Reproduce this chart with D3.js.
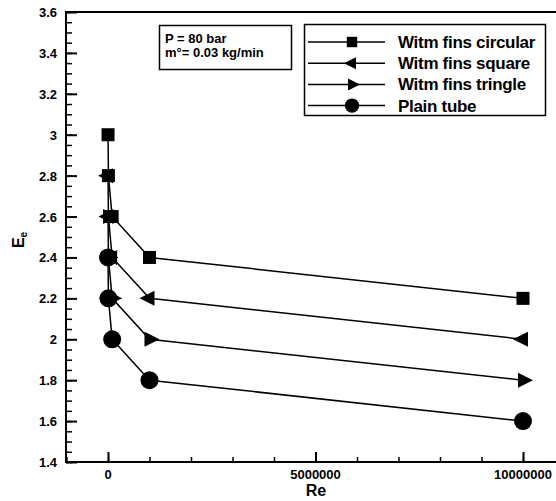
<!DOCTYPE html>
<html>
<head>
<meta charset="utf-8">
<script src="https://cdn.jsdelivr.net/npm/d3@7"></script>
<style>
  body { margin: 0; background: #fff; }
  text { font-family: "Liberation Sans", Arial, sans-serif; font-weight: bold; fill: #000; }
</style>
</head>
<body>
<svg width="556" height="501"></svg>
<script>
const reValues = [1000, 10000, 100000, 1000000, 10000000];
const seriesNames = ['Witm fins circular', 'Witm fins square', 'Witm fins tringle', 'Plain tube'];
const circularE = [3.0, 2.8, 2.6, 2.4, 2.2];
const squareE = [2.8, 2.6, 2.4, 2.2, 2.0];
const tringleE = [2.6, 2.4, 2.2, 2.0, 1.8];
const plainE = [2.4, 2.2, 2.0, 1.8, 1.6];
const yTicks = [1.4, 1.6, 1.8, 2, 2.2, 2.4, 2.6, 2.8, 3, 3.2, 3.4, 3.6];
const xTicks = [0, 5000000, 10000000];

const series = [
  {name: seriesNames[0], vals: circularE, sym: 'square'},
  {name: seriesNames[1], vals: squareE, sym: 'left'},
  {name: seriesNames[2], vals: tringleE, sym: 'right'},
  {name: seriesNames[3], vals: plainE, sym: 'circle'}
];

const svg = d3.select('svg');
const plotL = 66, plotT = 12, plotB = 462;

const x = d3.scaleLinear().domain([-1000000, 11000000]).range([66.5, 564.5]);
const y = d3.scaleLinear().domain([1.4, 3.6]).range([plotB, plotT]);

// frame
svg.append('line').attr('x1', plotL).attr('x2', 556).attr('y1', plotT).attr('y2', plotT)
   .attr('stroke', '#000').attr('stroke-width', 2);

// y axis, ticks inward
const yMinor = d3.range(1.4, 3.6001, 0.05);
svg.append('g').attr('transform', `translate(${plotL},0)`)
   .call(d3.axisRight(y).tickValues(yMinor).tickSize(6).tickFormat(''))
   .call(g => g.select('.domain').remove())
   .selectAll('line').attr('stroke-width', 1.5);
svg.append('g').attr('transform', `translate(${plotL},0)`)
   .call(d3.axisRight(y).tickValues(yTicks).tickSize(11).tickFormat(''))
   .call(g => g.select('.domain').remove())
   .selectAll('line').attr('stroke-width', 2);
svg.selectAll('.ylab').data(yTicks).join('text')
   .attr('x', 57).attr('y', d => y(d) + 5)
   .attr('text-anchor', 'end').attr('font-size', 13)
   .text(d => d3.format('~g')(d));
svg.append('line').attr('x1', plotL).attr('x2', plotL).attr('y1', plotT - 1).attr('y2', plotB + 1)
   .attr('stroke', '#000').attr('stroke-width', 2);

// x axis, ticks inward
const xMinor = d3.range(-1000000, 11000001, 1000000);
svg.append('g').attr('transform', `translate(0,${plotB})`)
   .call(d3.axisTop(x).tickValues(xMinor).tickSize(5).tickFormat(''))
   .call(g => g.select('.domain').remove())
   .selectAll('line').attr('stroke-width', 1.5);
svg.append('g').attr('transform', `translate(0,${plotB})`)
   .call(d3.axisTop(x).tickValues(xTicks).tickSize(10).tickFormat(''))
   .call(g => g.select('.domain').remove())
   .selectAll('line').attr('stroke-width', 2);
svg.selectAll('.xlab').data(xTicks).join('text')
   .attr('x', d => x(d)).attr('y', plotB + 17)
   .attr('text-anchor', 'middle').attr('font-size', 13)
   .text(d => d);
svg.append('line').attr('x1', plotL - 1).attr('x2', 556).attr('y1', plotB).attr('y2', plotB)
   .attr('stroke', '#000').attr('stroke-width', 2);

// axis titles
svg.append('text').attr('x', 316).attr('y', 496).attr('text-anchor', 'middle')
   .attr('font-size', 16).text('Re');
const yt = svg.append('text').attr('transform', 'translate(24,240) rotate(-90)')
   .attr('text-anchor', 'middle').attr('font-size', 16);
yt.append('tspan').text('E');
yt.append('tspan').attr('font-size', 10).attr('dy', 3).text('e');

// markers
function marker(g, sym, cx, cy, k = 1) {
  if (sym === 'square') {
    g.append('rect').attr('x', cx - 6.5 * k).attr('y', cy - 6.5 * k).attr('width', 13 * k).attr('height', 13 * k);
  } else if (sym === 'circle') {
    g.append('circle').attr('cx', cx).attr('cy', cy).attr('r', 9 * k);
  } else if (sym === 'left') {
    g.append('path').attr('d', `M${cx - 10 * k},${cy}L${cx + 5 * k},${cy - 7.5 * k}L${cx + 5 * k},${cy + 7.5 * k}Z`);
  } else {
    g.append('path').attr('d', `M${cx + 10 * k},${cy}L${cx - 5 * k},${cy - 7.5 * k}L${cx - 5 * k},${cy + 7.5 * k}Z`);
  }
}

const line = d3.line().x(d => x(d[0])).y(d => y(d[1]));
series.slice().reverse().forEach(s => {
  const pts = reValues.map((r, i) => [r, s.vals[i]]);
  const g = svg.append('g').attr('fill', '#000');
  g.append('path').datum(pts).attr('d', line)
   .attr('fill', 'none').attr('stroke', '#000').attr('stroke-width', 1.5);
  pts.forEach(p => marker(g, s.sym, x(p[0]), y(p[1])));
});

// info box
svg.append('rect').attr('x', 159.5).attr('y', 25.5).attr('width', 132).attr('height', 44)
   .attr('fill', '#fff').attr('stroke', '#000').attr('stroke-width', 1.5);
svg.append('text').attr('x', 165).attr('y', 43).attr('font-size', 13).text('P = 80 bar');
svg.append('text').attr('x', 165).attr('y', 57).attr('font-size', 13).text('m\u00b0= 0.03 kg/min');

// legend
const lg = svg.append('g');
lg.append('rect').attr('x', 304.5).attr('y', 24.5).attr('width', 241).attr('height', 91)
  .attr('fill', '#fff').attr('stroke', '#000').attr('stroke-width', 1.5);
series.forEach((s, i) => {
  const ly = 42 + i * 21.2;
  const g = lg.append('g').attr('fill', '#000');
  g.append('line').attr('x1', 308).attr('x2', 385).attr('y1', ly).attr('y2', ly)
   .attr('stroke', '#000').attr('stroke-width', 1.5);
  marker(g, s.sym, 352, ly, 0.8);
  lg.append('text').attr('x', 398).attr('y', ly + 6).attr('font-size', 17)
    .attr('letter-spacing', -0.3).text(s.name);
});
</script>
</body>
</html>
